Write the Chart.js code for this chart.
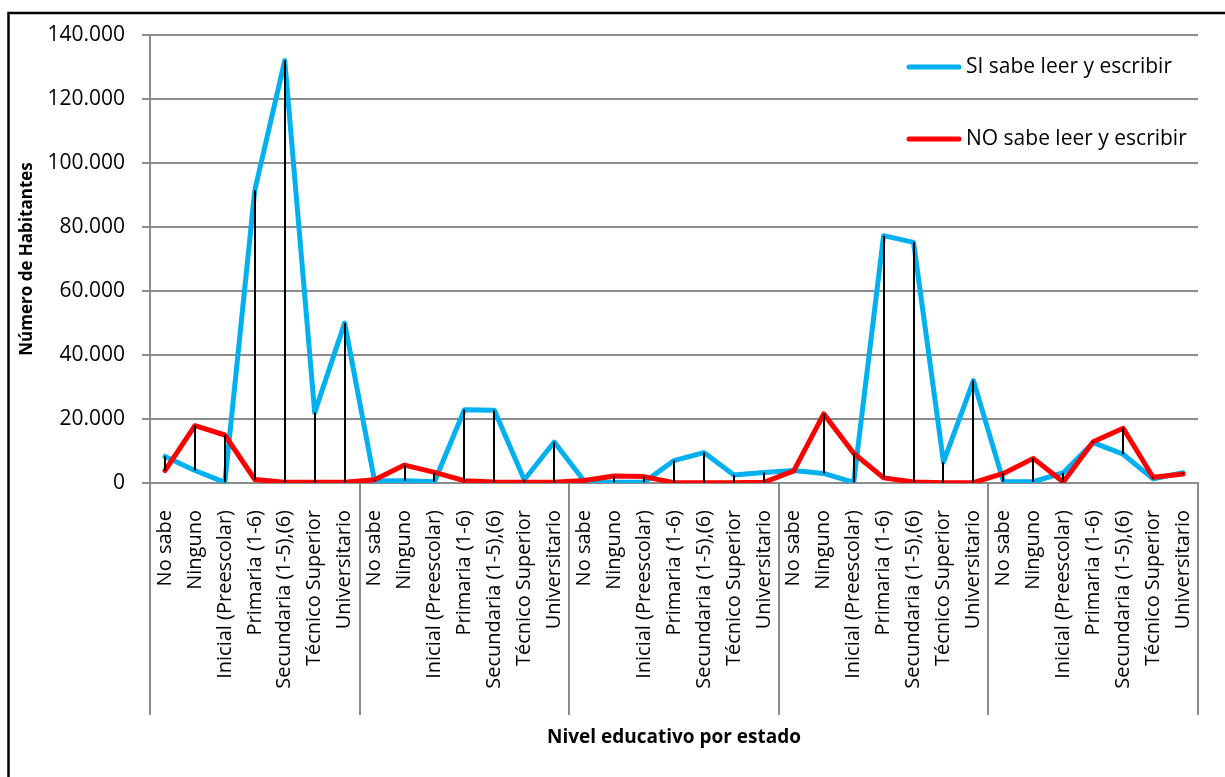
<!DOCTYPE html>
<html>
<head>
<meta charset="utf-8">
<script src="https://cdn.jsdelivr.net/npm/chart.js@4"></script>
<style>
  body { margin: 0; background: #fff; }
  #wrap { width: 1225px; height: 777px; }
</style>
</head>
<body>
<div id="wrap"><canvas id="myChart" width="1225" height="777"></canvas></div>
<script>
var niveles = [
    'No sabe',
    'Ninguno',
    'Inicial (Preescolar)',
    'Primaria (1-6)',
    'Secundaria (1-5),(6)',
    'Técnico Superior',
    'Universitario'
];
var numEstados = 5;

// SI sabe leer y escribir, 5 estados x 7 niveles
var siSabe = [
    8300, 3900, 200, 91500, 132000, 22000, 50000,
    600, 700, 400, 22900, 22700, 1000, 12800,
    600, 200, 200, 7000, 9500, 2500, 3300,
    3900, 3000, 200, 77300, 75200, 6500, 32000,
    500, 400, 3200, 12600, 9000, 1300, 3200
];
// NO sabe leer y escribir
var noSabe = [
    3900, 17900, 15000, 1100, 200, 200, 200,
    1000, 5600, 3300, 700, 300, 200, 200,
    800, 2200, 2000, 100, 100, 100, 200,
    3800, 21600, 9300, 1600, 300, 100, 100,
    3000, 7700, 300, 12900, 17100, 1800, 2800
];

var yTickLabels = ['0', '20.000', '40.000', '60.000', '80.000', '100.000', '120.000', '140.000'];

var labels = [];
for (var e = 0; e < numEstados; e++) {
    for (var n = 0; n < niveles.length; n++) {
        labels.push(niveles[n]);
    }
}

var gridColor = '#8c8c8c';

// marco negro alrededor del grafico
var framePlugin = {
    id: 'frame',
    beforeDraw: function (chart) {
        var ctx = chart.ctx;
        ctx.save();
        ctx.fillStyle = '#fff';
        ctx.fillRect(0, 0, chart.width, chart.height);
        ctx.strokeStyle = '#000';
        ctx.lineWidth = 2.5;
        ctx.strokeRect(8.5, 13, chart.width + 20, chart.height + 20);
        ctx.restore();
    }
};

// lineas de maximo-minimo entre las dos series
var hiLoPlugin = {
    id: 'hiLo',
    afterDatasetsDraw: function (chart) {
        var ctx = chart.ctx;
        var xs = chart.scales.x, ys = chart.scales.y;
        ctx.save();
        ctx.strokeStyle = '#000';
        ctx.lineWidth = 2;
        for (var i = 0; i < siSabe.length; i++) {
            var x = Math.round(xs.getPixelForValue(i));
            ctx.beginPath();
            ctx.moveTo(x, ys.getPixelForValue(siSabe[i]));
            ctx.lineTo(x, ys.getPixelForValue(noSabe[i]));
            ctx.stroke();
        }
        ctx.restore();
    }
};

// separadores de grupo debajo del eje x
var groupPlugin = {
    id: 'groups',
    afterDraw: function (chart) {
        var ctx = chart.ctx;
        var xs = chart.scales.x;
        ctx.save();
        ctx.strokeStyle = gridColor;
        ctx.lineWidth = 2;
        for (var g = 0; g <= numEstados; g++) {
            var x = Math.round(xs.getPixelForValue(g * niveles.length - 0.5));
            ctx.beginPath();
            ctx.moveTo(x, chart.chartArea.bottom);
            ctx.lineTo(x, 715);
            ctx.stroke();
        }
        ctx.restore();
    }
};

// leyenda dentro del area del grafico
var legendPlugin = {
    id: 'innerLegend',
    afterDraw: function (chart) {
        var ctx = chart.ctx;
        var items = [chart.data.datasets[1], chart.data.datasets[0]];
        var ys = [67, 139];
        ctx.save();
        ctx.font = '21px "Open Sans"';
        ctx.textBaseline = 'middle';
        ctx.fillStyle = '#000';
        for (var i = 0; i < items.length; i++) {
            ctx.strokeStyle = items[i].borderColor;
            ctx.lineWidth = 5;
            ctx.lineCap = 'round';
            ctx.beginPath();
            ctx.moveTo(909, ys[i]);
            ctx.lineTo(959, ys[i]);
            ctx.stroke();
            ctx.fillText(items[i].label, 966, ys[i]);
        }
        ctx.restore();
    }
};

function createChart() {
    var ctx = document.getElementById('myChart').getContext('2d');
    var myChart = new Chart(ctx, {
        type: 'line',
        data: {
            labels: labels,
            datasets: [
                {
                    label: 'NO sabe leer y escribir',
                    data: noSabe,
                    borderColor: '#ff0000',
                    backgroundColor: '#ff0000',
                    borderWidth: 5,
                    pointRadius: 0,
                    tension: 0,
                    borderJoinStyle: 'round',
                    borderCapStyle: 'round',
                    order: 0
                },
                {
                    label: 'SI sabe leer y escribir',
                    data: siSabe,
                    borderColor: '#00b0f0',
                    backgroundColor: '#00b0f0',
                    borderWidth: 5,
                    pointRadius: 0,
                    tension: 0,
                    borderJoinStyle: 'round',
                    borderCapStyle: 'round',
                    order: 1
                }
            ]
        },
        options: {
            responsive: false,
            animation: false,
            devicePixelRatio: 1,
            layout: { padding: { left: 10, top: 35, right: 27, bottom: 10 } },
            plugins: {
                legend: { display: false },
                tooltip: { enabled: false }
            },
            scales: {
                x: {
                    offset: true,
                    grid: { display: false, drawTicks: false },
                    border: { display: true, color: gridColor, width: 2 },
                    ticks: {
                        autoSkip: false,
                        minRotation: 90,
                        maxRotation: 90,
                        padding: 27,
                        color: '#000',
                        font: { family: 'Open Sans', size: 20 }
                    },
                    title: {
                        display: true,
                        text: 'Nivel educativo por estado',
                        color: '#000',
                        font: { family: 'Open Sans', size: 19, weight: 'bold' },
                        padding: { top: 0, bottom: 18 }
                    },
                    afterFit: function (scale) {
                        scale.height = 284;
                        scale.paddingLeft = 0;
                        scale.paddingRight = 0;
                    }
                },
                y: {
                    min: 0,
                    max: 140000,
                    grid: { color: gridColor, lineWidth: 2, tickLength: 8 },
                    border: { display: true, color: gridColor, width: 2 },
                    ticks: {
                        stepSize: 20000,
                        padding: 17,
                        color: '#000',
                        font: { family: 'Open Sans', size: 21 },
                        callback: function (value, index) { return yTickLabels[index]; }
                    },
                    title: {
                        display: true,
                        text: 'Número de Habitantes',
                        color: '#000',
                        font: { family: 'Open Sans', size: 17, weight: 'bold' },
                        padding: { top: 7, bottom: 0 }
                    },
                    afterFit: function (scale) {
                        scale.width = 140;
                        scale.paddingTop = 0;
                        scale.paddingBottom = 0;
                    }
                }
            }
        },
        plugins: [framePlugin, hiLoPlugin, groupPlugin, legendPlugin]
    });
}
createChart();
</script>
</body>
</html>
